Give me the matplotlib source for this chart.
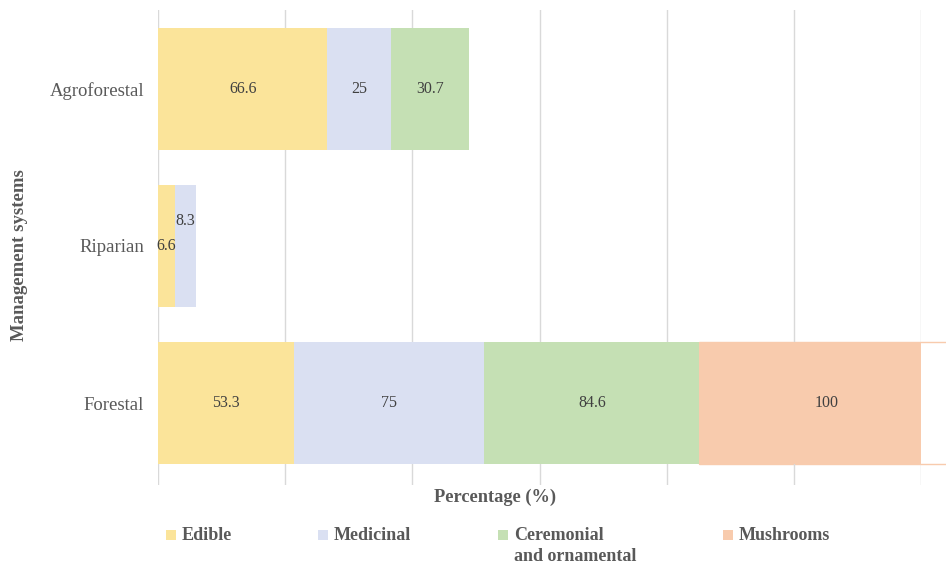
import matplotlib
matplotlib.use("Agg")
import matplotlib.pyplot as plt

systems = ["Forestal", "Riparian", "Agroforestal"]
series = ["Edible", "Medicinal", "Ceremonial\nand ornamental", "Mushrooms"]
edible = [53.3, 6.6, 66.6]
medicinal = [75, 8.3, 25]
ceremonial = [84.6, 0, 30.7]
mushrooms = [100, 0, 0]
colors = ["#FBE49A", "#DAE0F2", "#C5E0B4", "#F8CBAD"]

plt.rcParams["font.family"] = ["Liberation Serif", "DejaVu Serif"]

fig = plt.figure(figsize=(9.46, 5.67), dpi=100)
ax = fig.add_axes([158 / 946, 1 - 485 / 567, (921 - 158) / 946, (485 - 10) / 567])

values = [edible, medicinal, ceremonial, mushrooms]
ypos = list(range(len(systems)))
left = [0.0] * len(systems)
for si, (vals, col) in enumerate(zip(values, colors)):
    ax.barh(ypos, vals, left=left, height=0.775, color=col, zorder=2)
    if si == 3:
        # top/bottom edge of the last segment runs past the plot edge
        for i, (v, l) in enumerate(zip(vals, left)):
            if v > 0:
                ax.barh(ypos[i], v, left=l, height=0.775, fill=False,
                        edgecolor=col, linewidth=1.0, clip_on=False, zorder=1)
    for i, (v, l) in enumerate(zip(vals, left)):
        if v <= 0:
            continue
        dy = 0.16 if (systems[i] == "Riparian" and si == 1) else 0
        ax.text(l + v / 2, ypos[i] + dy, f"{v:g}", ha="center", va="center",
                fontsize=11.5, color="#404040", zorder=3)
    left = [a + b for a, b in zip(left, vals)]

ax.set_xlim(0, 300)
ax.set_ylim(-0.52, 2.5)
ax.set_xticks(range(0, 301, 50))
ax.set_xticklabels([])
ax.tick_params(axis="x", length=0)
ax.tick_params(axis="y", length=0, pad=10, labelsize=13.5, labelcolor="#595959")
ax.set_yticks(ypos)
ax.set_yticklabels(systems)
ax.grid(axis="x", color="#D9D9D9", linewidth=1, zorder=0)
for s in ax.spines.values():
    s.set_visible(False)

fig.text(495 / 946, 1 - 497 / 567, "Percentage (%)", ha="center", va="center",
         fontsize=13.2, fontweight="bold", color="#595959")
fig.text(20 / 946, 1 - 255 / 567, "Management systems", ha="center", va="center",
         rotation=90, fontsize=13.5, fontweight="bold", color="#595959")

leg_x = [166, 318, 498, 723]
for hx, lab, c in zip(leg_x, series, colors):
    fig.patches.append(plt.Rectangle((hx / 946, 1 - 540 / 567), 10 / 946, 10 / 567,
                                     transform=fig.transFigure, facecolor=c,
                                     edgecolor="none"))
    fig.text((hx + 16) / 946, 1 - 527 / 567, lab, ha="left", va="top",
             fontsize=13, fontweight="bold", color="#595959", linespacing=1.3)

fig.savefig("out.png", dpi=100)
